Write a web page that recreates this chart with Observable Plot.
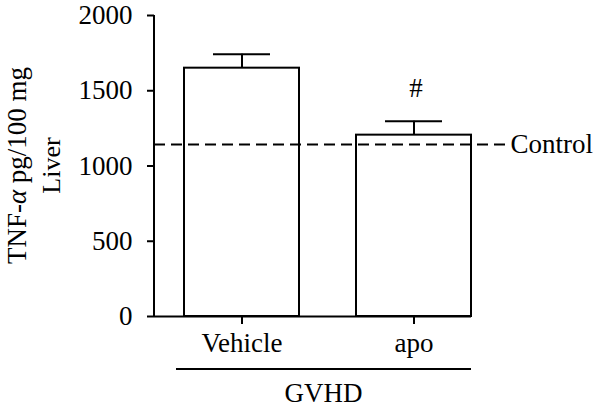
<!DOCTYPE html>
<html><head><meta charset="utf-8">
<script src="https://cdn.jsdelivr.net/npm/d3@7"></script>
<script src="https://cdn.jsdelivr.net/npm/@observablehq/plot@0.6"></script>
<style>body{margin:0;background:#fff}</style>
</head><body><div id="chart"></div>
<script>
const categories = ["Vehicle", "apo"];
const values = [1650, 1205];
const errors = [92, 92];
const significance = ["", "#"];
const controlValue = 1143;
const controlLabel = "Control";
const yTicks = [0, 500, 1000, 1500, 2000];
const groupLabel = "GVHD";

const data = categories.map((c, i) => ({cat: c, value: values[i], err: errors[i], mark: significance[i]}));
const FONT = "'Liberation Serif', 'Times New Roman', Times, 'DejaVu Serif', serif";
const FS = 27;

const plot = Plot.plot({
  width: 600, height: 413,
  marginLeft: 154, marginRight: 129, marginTop: 15, marginBottom: 97,
  style: `font-family: ${FONT}; font-size: ${FS}px; background: white; color: black;`,
  x: {domain: categories, range: [183, 471], paddingInner: 0.333, paddingOuter: 0},
  y: {domain: [0, 2000]},
  marks: [
    Plot.barY(data, {x: "cat", y: "value", fill: "white", stroke: "black", strokeWidth: 2}),
    Plot.ruleX(data, {x: "cat", y1: "value", y2: d => d.value + d.err, stroke: "black", strokeWidth: 2}),
    Plot.tickY(data, {x: "cat", y: d => d.value + d.err, stroke: "black", strokeWidth: 2, insetLeft: 29, insetRight: 29}),
    Plot.ruleY([controlValue], {stroke: "black", strokeWidth: 2, strokeDasharray: "11,6", insetRight: -35}),
    Plot.ruleY([0], {stroke: "black", strokeWidth: 2}),
    Plot.text(data, {x: "cat", y: d => d.value + d.err, text: "mark", lineAnchor: "bottom", dy: -24, dx: 2, fill: "black", fontSize: FS}),
    Plot.text([controlValue], {y: d => d, text: () => controlLabel, frameAnchor: "right", textAnchor: "start", dx: 39, fill: "black", fontSize: FS}),
    Plot.axisY({ticks: yTicks, tickSize: 7, tickPadding: 15, strokeWidth: 2, label: null, tickFormat: d => String(d), fontSize: FS, fontVariant: "normal"}),
    Plot.axisX({tickSize: 8, tickPadding: 8, strokeWidth: 2, label: null, fontSize: FS})
  ]
});
document.getElementById("chart").appendChild(plot);

const svg = d3.select(plot);
svg.selectAll("text").style("font-family", FONT);
const xs = plot.scale("x");
const ys = plot.scale("y");
// y-axis line
svg.append("line").attr("x1", 154).attr("x2", 154)
  .attr("y1", ys.apply(0)).attr("y2", ys.apply(2000))
  .attr("stroke", "black").attr("stroke-width", 2);
// y-axis title (two lines, italic alpha)
const cy = (ys.apply(0) + ys.apply(2000)) / 2;
const l1 = svg.append("text").attr("transform", `translate(26,${cy}) rotate(-90)`)
  .attr("text-anchor", "middle").style("font-family", FONT).attr("font-size", FS).attr("fill", "black");
l1.append("tspan").text("TNF-");
l1.append("tspan").attr("font-style", "italic").text("α");
l1.append("tspan").text(" pg/100 mg");
svg.append("text").attr("transform", `translate(60,${cy}) rotate(-90)`)
  .attr("text-anchor", "middle").style("font-family", FONT).attr("font-size", 26).attr("fill", "black").text("Liver");
// group bracket
const gx1 = xs.apply(categories[0]) - 8;
const gx2 = xs.apply(categories[categories.length - 1]) + xs.bandwidth;
svg.append("line").attr("x1", gx1).attr("x2", gx2).attr("y1", 369).attr("y2", 369)
  .attr("stroke", "black").attr("stroke-width", 2);
svg.append("text").attr("x", (gx1 + gx2) / 2).attr("y", 402).attr("text-anchor", "middle")
  .style("font-family", FONT).attr("font-size", FS).attr("fill", "black").text(groupLabel);
</script>
</body></html>
